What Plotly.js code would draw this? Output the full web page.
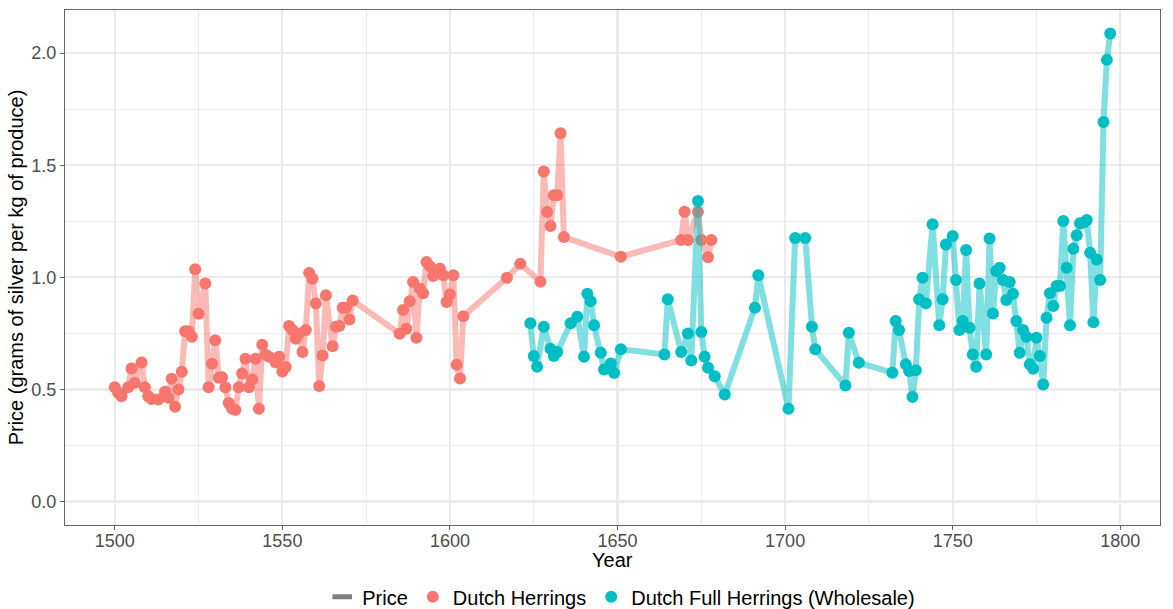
<!DOCTYPE html>
<html>
<head>
<meta charset="utf-8">
<script src="https://cdn.plot.ly/plotly-3.0.1.min.js"></script>
<style>html,body{margin:0;padding:0;background:#fff;}#chart{width:1173px;height:609px;}</style>
</head>
<body>
<div id="chart"></div>
<script>
// Dutch Herrings
var herringYears = [1500,1501,1502,1504,1505,1506,1508,1509,1510,1511,1513,1515,1516,1517,1518,1519,1520,1521,1522,1523,1524,1525,1527,1528,1529,1530,1531,1532,1533,1534,1535,1536,1537,1538,1539,1540,1541,1542,1543,1544,1545,1546,1548,1549,1550,1551,1552,1553,1554,1555,1556,1557,1558,1559,1560,1561,1562,1563,1565,1566,1567,1568,1569,1570,1571,1585,1586,1587,1588,1589,1590,1591,1592,1593,1594,1595,1597,1598,1599,1600,1601,1602,1603,1604,1617,1621,1627,1628,1629,1630,1631,1632,1633,1634,1651,1669,1670,1671,1674,1675,1677,1678];
var herringPrice = [0.51,0.485,0.47,0.51,0.594,0.53,0.62,0.51,0.47,0.458,0.455,0.49,0.463,0.548,0.423,0.50,0.579,0.76,0.76,0.735,1.036,0.838,0.973,0.51,0.615,0.719,0.552,0.555,0.51,0.44,0.414,0.409,0.51,0.571,0.637,0.51,0.545,0.637,0.414,0.70,0.655,0.646,0.62,0.646,0.58,0.60,0.783,0.765,0.726,0.75,0.667,0.765,1.02,0.994,0.883,0.515,0.652,0.92,0.693,0.78,0.783,0.865,0.865,0.8125,0.897,0.749,0.854,0.771,0.894,0.979,0.731,0.95,0.929,1.068,1.05,1.006,1.039,1.009,0.89,0.924,1.009,0.61,0.549,0.827,0.998,1.061,0.981,1.472,1.292,1.229,1.366,1.366,1.643,1.18,1.092,1.167,1.293,1.167,1.293,1.167,1.09,1.167];

// Dutch Full Herrings (Wholesale)
var fullYears = [1624,1625,1626,1628,1630,1631,1632,1636,1638,1640,1641,1642,1643,1645,1646,1648,1649,1651,1664,1665,1669,1671,1672,1674,1675,1676,1677,1679,1682,1691,1692,1701,1703,1706,1708,1709,1718,1719,1722,1732,1733,1734,1736,1737,1738,1739,1740,1741,1742,1744,1746,1747,1748,1750,1751,1752,1753,1754,1755,1756,1757,1758,1760,1761,1762,1763,1764,1765,1766,1767,1768,1769,1770,1771,1772,1773,1774,1775,1776,1777,1778,1779,1780,1781,1782,1783,1784,1785,1786,1787,1788,1789,1790,1791,1792,1793,1794,1795,1796,1797];
var fullPrice = [0.795,0.649,0.601,0.78,0.682,0.649,0.667,0.795,0.824,0.646,0.927,0.894,0.786,0.664,0.589,0.616,0.574,0.679,0.656,0.902,0.667,0.75,0.629,1.341,0.756,0.646,0.597,0.559,0.478,0.865,1.009,0.414,1.176,1.176,0.78,0.679,0.518,0.753,0.619,0.575,0.805,0.765,0.612,0.582,0.467,0.586,0.902,0.998,0.884,1.237,0.786,0.902,1.147,1.184,0.988,0.765,0.805,1.122,0.775,0.656,0.601,0.973,0.656,1.173,0.839,1.028,1.043,0.988,0.899,0.979,0.927,0.805,0.664,0.765,0.735,0.612,0.592,0.731,0.649,0.522,0.82,0.929,0.872,0.961,0.961,1.251,1.043,0.786,1.128,1.188,1.241,1.244,1.256,1.11,0.8,1.08,0.988,1.693,1.97,2.088];

var seriesNames = ['Price', 'Dutch Herrings', 'Dutch Full Herrings (Wholesale)'];
var xTickVals = [1500,1550,1600,1650,1700,1750,1800];
var yTickVals = [0.0,0.5,1.0,1.5,2.0];
var xTitle = 'Year';
var yTitle = 'Price (grams of silver per kg of produce)';

var RED = '#F8766D', CYAN = '#00BFC4';

var traces = [
  {x:[null], y:[null], type:'scatter', mode:'markers', name:seriesNames[0], showlegend:true,
   marker:{symbol:'line-ew', size:14, color:'#7F7F7F', line:{color:'#7F7F7F', width:5}}, hoverinfo:'skip'},
  {x:herringYears, y:herringPrice, type:'scatter', mode:'lines', showlegend:false,
   line:{color:'rgba(248,118,109,0.5)', width:6}, hoverinfo:'skip'},
  {x:herringYears, y:herringPrice, type:'scatter', mode:'markers', name:seriesNames[1],
   marker:{color:RED, size:12}},
  {x:fullYears, y:fullPrice, type:'scatter', mode:'lines', showlegend:false,
   line:{color:'rgba(0,191,196,0.5)', width:6}, hoverinfo:'skip'},
  {x:fullYears, y:fullPrice, type:'scatter', mode:'markers', name:seriesNames[2],
   marker:{color:CYAN, size:12}}
];

var layout = {
  width:1173, height:609,
  margin:{l:65, r:13, t:10, b:84},
  paper_bgcolor:'#ffffff', plot_bgcolor:'#ffffff',
  font:{family:'"Liberation Sans", Arial, sans-serif', color:'#000'},
  showlegend:true,
  legend:{orientation:'h', x:0.508, xanchor:'center', yref:'container', y:0.02, yanchor:'middle',
          font:{size:20, color:'#000'}, traceorder:'normal', itemwidth:30},
  annotations:[
    {text:xTitle, xref:'paper', yref:'paper', x:0.5, y:-0.068, xanchor:'center', yanchor:'middle',
     showarrow:false, font:{size:20, color:'#000'}}
  ],
  xaxis:{
    range:[1485.15, 1811.85], tickvals:xTickVals, ticktext:xTickVals.map(String),
    showgrid:true, gridcolor:'#EBEBEB', gridwidth:2.2,
    minor:{dtick:25, tick0:1500, showgrid:true, gridcolor:'#EBEBEB', gridwidth:1.1},
    zeroline:false, showline:true, mirror:true, linecolor:'#666666', linewidth:1,
    ticks:'outside', ticklen:4, tickcolor:'#666666', tickwidth:1, ticklabelstandoff:-5,
    tickfont:{size:18, color:'#4D4D4D'}, automargin:false
  },
  yaxis:{
    range:[-0.1044, 2.1924], tickvals:yTickVals, ticktext:yTickVals.map(function(v){return v.toFixed(1);}),
    showgrid:true, gridcolor:'#EBEBEB', gridwidth:2.2,
    minor:{dtick:0.25, tick0:0, showgrid:true, gridcolor:'#EBEBEB', gridwidth:1.1},
    zeroline:false, showline:true, mirror:true, linecolor:'#666666', linewidth:1,
    ticks:'outside', ticklen:4, tickcolor:'#666666', tickwidth:1,
    tickfont:{size:18, color:'#4D4D4D'}, automargin:false,
    title:{text:yTitle, font:{size:20, color:'#000'}, standoff:2}
  }
};

Plotly.newPlot('chart', traces, layout, {displayModeBar:false, staticPlot:true});
</script>
</body>
</html>
